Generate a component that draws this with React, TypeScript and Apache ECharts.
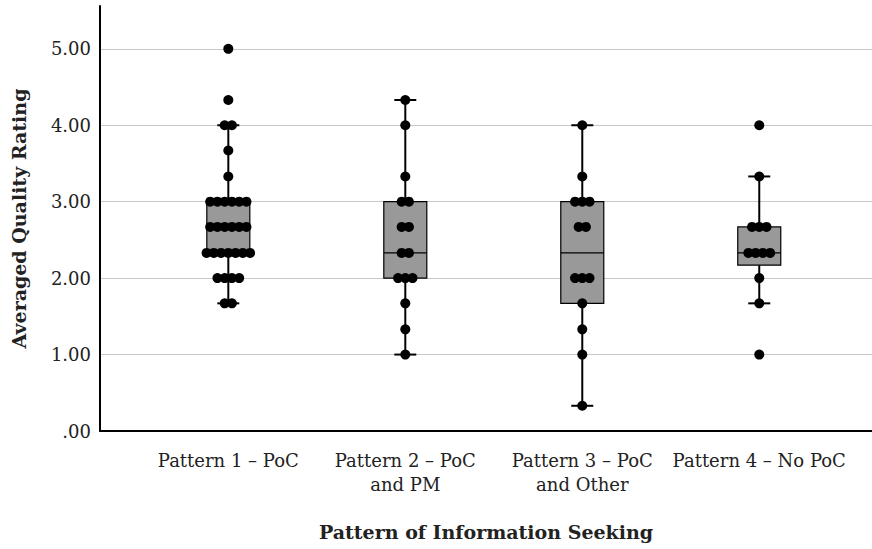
import React, { useEffect, useRef } from "react";
import * as echarts from "echarts";

const categories = [
  "Pattern 1 – PoC",
  "Pattern 2 – PoC\nand PM",
  "Pattern 3 – PoC\nand Other",
  "Pattern 4 – No PoC",
];

// [whisker low, Q1, median, Q3, whisker high]
const boxStats = [
  [1.67, 2.33, 2.67, 3.0, 4.0],
  [1.0, 2.0, 2.33, 3.0, 4.33],
  [0.33, 1.67, 2.33, 3.0, 4.0],
  [1.67, 2.17, 2.33, 2.67, 3.33],
];

const pattern1 = [5.0, 4.33, 4.0, 4.0, 3.67, 3.33, 3.0, 3.0, 3.0, 3.0, 3.0, 3.0, 2.67, 2.67, 2.67, 2.67, 2.67, 2.67, 2.33, 2.33, 2.33, 2.33, 2.33, 2.33, 2.33, 2.0, 2.0, 2.0, 2.0, 1.67, 1.67];
const pattern2 = [4.33, 4.0, 3.33, 3.0, 3.0, 2.67, 2.67, 2.33, 2.33, 2.0, 2.0, 2.0, 1.67, 1.33, 1.0];
const pattern3 = [4.0, 3.33, 3.0, 3.0, 3.0, 2.67, 2.67, 2.0, 2.0, 2.0, 1.67, 1.33, 1.0, 0.33];
const pattern4 = [4.0, 3.33, 2.67, 2.67, 2.67, 2.33, 2.33, 2.33, 2.33, 2.0, 1.67, 1.0];

const yTicks = [0, 1, 2, 3, 4, 5];

const DOT_STEP = 0.041;

function swarm(values: number[], center: number): number[][] {
  const groups = new Map<number, number>();
  values.forEach((v) => groups.set(v, (groups.get(v) || 0) + 1));
  const out: number[][] = [];
  groups.forEach((n, v) => {
    for (let k = 0; k < n; k++) {
      out.push([center + (k - (n - 1) / 2) * DOT_STEP, v]);
    }
  });
  return out;
}

export default function App() {
  const ref = useRef<HTMLDivElement>(null);
  useEffect(() => {
    if (!ref.current) return;
    const chart = echarts.init(ref.current, undefined, { renderer: "svg" });
    const allPatterns = [pattern1, pattern2, pattern3, pattern4];
    const dots: number[][] = [];
    allPatterns.forEach((p, i) => dots.push(...swarm(p, i + 1)));
    const boxData = boxStats.map((s, i) => [i + 1, ...s]);
    const fontFamily = "DejaVu Serif";

    chart.setOption({
      animation: false,
      backgroundColor: "#ffffff",
      grid: { left: 100, right: 0, top: 6, bottom: 118, containLabel: false },
      xAxis: {
        type: "value",
        min: 0.275,
        max: 4.637,
        name: "Pattern of Information Seeking",
        nameLocation: "middle",
        nameGap: 91,
        nameTextStyle: { fontFamily, fontWeight: "bold", fontSize: 19, color: "#222" },
        axisLine: { show: true, lineStyle: { color: "#000", width: 2 } },
        axisTick: { show: false, customValues: [1, 2, 3, 4] },
        splitLine: { show: false },
        axisLabel: {
          customValues: [1, 2, 3, 4],
          formatter: (v: number) => categories[Math.round(v) - 1] || "",
          fontFamily,
          fontSize: 18,
          color: "#222",
          margin: 17,
          lineHeight: 24,
        },
      },
      yAxis: {
        type: "value",
        min: 0,
        max: 5.56,
        name: "Averaged Quality Rating",
        nameLocation: "middle",
        nameGap: 72,
        nameTextStyle: { fontFamily, fontWeight: "bold", fontSize: 19, color: "#222" },
        axisLine: { show: true, lineStyle: { color: "#000", width: 2 } },
        axisTick: { show: false, customValues: yTicks },
        splitLine: { show: true, lineStyle: { color: "#c8c8c8", width: 1 } },
        axisLabel: {
          customValues: yTicks,
          formatter: (v: number) => (v === 0 ? ".00" : v.toFixed(2)),
          fontFamily,
          fontSize: 18,
          color: "#222",
          margin: 9,
        },
      },
      series: [
        {
          type: "custom",
          data: boxData,
          z: 2,
          renderItem: (params: any, api: any) => {
            const x = api.value(0);
            const lo = api.coord([x, api.value(1)]);
            const q1 = api.coord([x, api.value(2)]);
            const med = api.coord([x, api.value(3)]);
            const q3 = api.coord([x, api.value(4)]);
            const hi = api.coord([x, api.value(5)]);
            const cx = lo[0];
            const bw = 43;
            const cw = 22;
            return {
              type: "group",
              children: [
                { type: "line", shape: { x1: cx, y1: hi[1], x2: cx, y2: q3[1] }, style: { stroke: "#000", lineWidth: 2 } },
                { type: "line", shape: { x1: cx, y1: q1[1], x2: cx, y2: lo[1] }, style: { stroke: "#000", lineWidth: 2 } },
                { type: "line", shape: { x1: cx - cw / 2, y1: hi[1], x2: cx + cw / 2, y2: hi[1] }, style: { stroke: "#000", lineWidth: 2 } },
                { type: "line", shape: { x1: cx - cw / 2, y1: lo[1], x2: cx + cw / 2, y2: lo[1] }, style: { stroke: "#000", lineWidth: 2 } },
                { type: "rect", shape: { x: cx - bw / 2, y: q3[1], width: bw, height: q1[1] - q3[1] }, style: { fill: "#999999", stroke: "#000", lineWidth: 1.2 } },
                { type: "line", shape: { x1: cx - bw / 2, y1: med[1], x2: cx + bw / 2, y2: med[1] }, style: { stroke: "#000", lineWidth: 1.2 } },
              ],
            };
          },
        },
        {
          type: "scatter",
          data: dots,
          z: 3,
          symbol: "circle",
          symbolSize: 10,
          itemStyle: { color: "#000", opacity: 1 },
        },
      ],
    });
    return () => chart.dispose();
  }, []);
  return (
    <div
      ref={ref}
      style={{ position: "fixed", left: 0, top: 0, width: 872, height: 549 }}
    />
  );
}
